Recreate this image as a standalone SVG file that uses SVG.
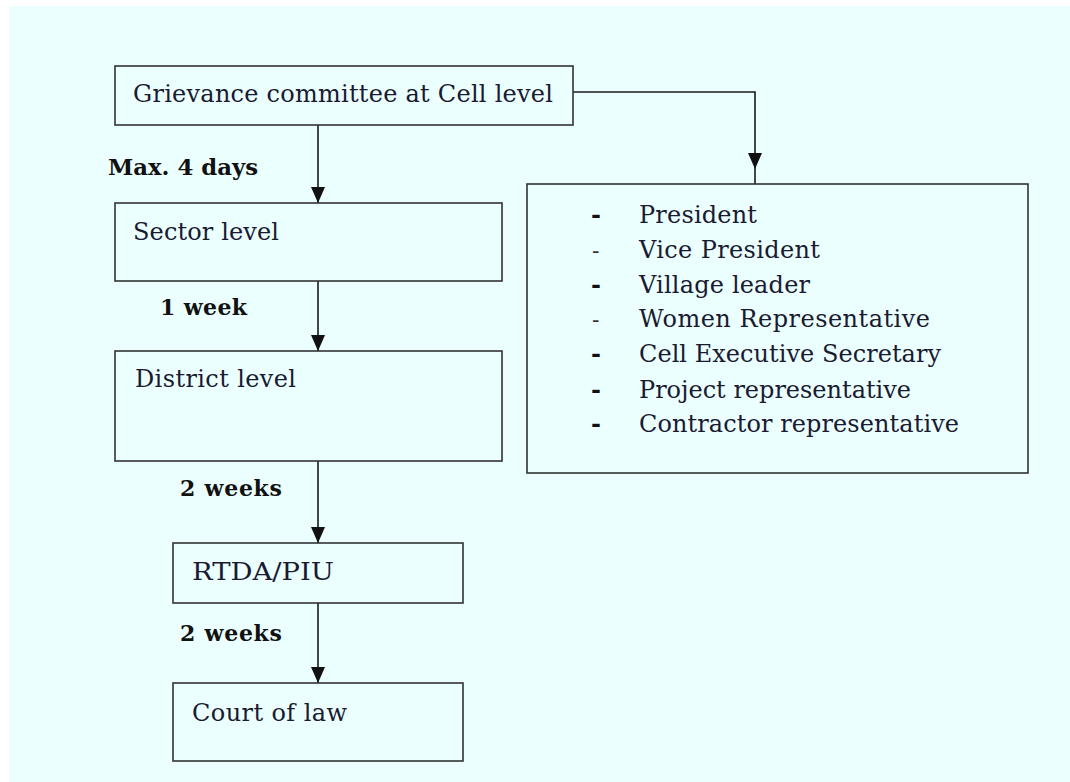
<svg xmlns="http://www.w3.org/2000/svg" width="1070" height="782" viewBox="0 0 1070 782">
  <style>
    .box { fill: none; stroke: #333; stroke-width: 1.6; }
    .conn { fill: none; stroke: #1a1a1a; stroke-width: 1.6; }
    .t { font-family: "DejaVu Serif", "Liberation Serif", serif; font-size: 24px; fill: #1a1a30; }
    .lbl { font-family: "DejaVu Serif", "Liberation Serif", serif; font-size: 22px; font-weight: bold; fill: #111; }
    .li { font-family: "DejaVu Serif", "Liberation Serif", serif; font-size: 24px; fill: #1a1a30; }
    .db { font-family: "DejaVu Serif", "Liberation Serif", serif; font-size: 24px; font-weight: bold; fill: #111; }
    .dn { font-family: "DejaVu Serif", "Liberation Serif", serif; font-size: 22px; fill: #333; }
  </style>
  <defs>
    <marker id="arr" markerUnits="userSpaceOnUse" viewBox="0 0 16 14" markerWidth="16" markerHeight="14" refX="16" refY="7" orient="auto">
      <path d="M0,0 L16,7 L0,14 Z" fill="#111"/>
    </marker>
  </defs>

  <rect x="9" y="6" width="1061" height="776" fill="#ebffff"/>

  <g id="connectors">
    <line class="conn" x1="318" y1="125" x2="318" y2="203" marker-end="url(#arr)"/>
    <line class="conn" x1="318" y1="281" x2="318" y2="351" marker-end="url(#arr)"/>
    <line class="conn" x1="318" y1="461" x2="318" y2="543" marker-end="url(#arr)"/>
    <line class="conn" x1="318" y1="603" x2="318" y2="683" marker-end="url(#arr)"/>
    <path class="conn" d="M573,92 H755 V169" marker-end="url(#arr)"/>
    <line class="conn" x1="755" y1="169" x2="755" y2="184"/>
  </g>

  <g id="labels">
    <text class="lbl" x="108" y="175" textLength="150" lengthAdjust="spacingAndGlyphs">Max. 4 days</text>
    <text class="lbl" x="160" y="315" textLength="87">1 week</text>
    <text class="lbl" x="180" y="496" textLength="102">2 weeks</text>
    <text class="lbl" x="180" y="641" textLength="102">2 weeks</text>
  </g>

  <g id="cell">
    <rect class="box" x="115" y="66" width="458" height="59"/>
    <text class="t" x="133" y="102" textLength="420">Grievance committee at Cell level</text>
  </g>

  <g id="sector">
    <rect class="box" x="115" y="203" width="387" height="78"/>
    <text class="t" x="133" y="240" textLength="146">Sector level</text>
  </g>

  <g id="district">
    <rect class="box" x="115" y="351" width="387" height="110"/>
    <text class="t" x="135" y="387" textLength="161">District level</text>
  </g>

  <g id="rtda">
    <rect class="box" x="173" y="543" width="290" height="60"/>
    <text class="t" x="192" y="580" textLength="142" lengthAdjust="spacingAndGlyphs">RTDA/PIU</text>
  </g>

  <g id="court">
    <rect class="box" x="173" y="683" width="290" height="78"/>
    <text class="t" x="192" y="721" textLength="155">Court of law</text>
  </g>

  <g id="members">
    <rect class="box" x="527" y="184" width="501" height="289"/>
    <text class="db" x="591" y="223">-</text>
    <text class="li" x="639" y="223" textLength="118">President</text>
    <text class="dn" x="592" y="258">-</text>
    <text class="li" x="639" y="258" textLength="181">Vice President</text>
    <text class="db" x="591" y="293">-</text>
    <text class="li" x="639" y="293" textLength="171">Village leader</text>
    <text class="dn" x="592" y="327">-</text>
    <text class="li" x="639" y="327" textLength="291">Women Representative</text>
    <text class="db" x="591" y="362">-</text>
    <text class="li" x="639" y="362" textLength="302">Cell Executive Secretary</text>
    <text class="db" x="591" y="398">-</text>
    <text class="li" x="639" y="398" textLength="272">Project representative</text>
    <text class="db" x="591" y="432">-</text>
    <text class="li" x="639" y="432" textLength="320">Contractor representative</text>
  </g>
</svg>
